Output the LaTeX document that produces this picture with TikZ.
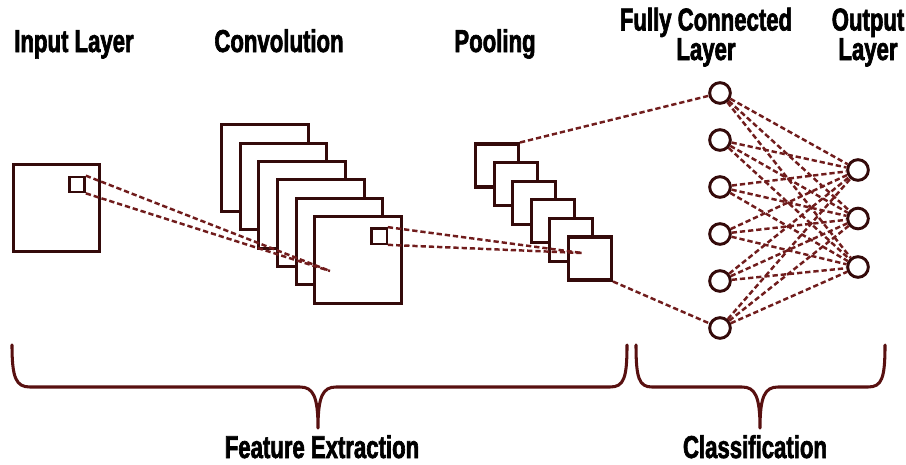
\documentclass[tikz,border=0pt]{standalone}
\usepackage{fontspec}
\newfontfamily\cnnfont{Liberation Sans}[UprightFont={* Bold}, FakeStretch=0.7, FakeBold=2]
\definecolor{boxred}{RGB}{52,10,10}
\definecolor{linkred}{RGB}{112,28,28}
\definecolor{bracered}{RGB}{88,16,16}
\tikzset{
    layer/.style={draw=boxred, line width=2.6pt, fill=white, minimum size=#1, inner sep=0pt},
    neuron/.style={draw=boxred, circle, line width=2.5pt, fill=white, minimum size=0.62cm, inner sep=0pt},
    link/.style={draw=linkred, line width=2.1pt, dash pattern=on 4.5pt off 2.5pt},
    bracket/.style={draw=bracered, line width=2.6pt, line cap=round, line join=round},
    title/.style={font=\cnnfont\fontsize{27}{24}\selectfont, align=center, anchor=base, inner sep=0pt}
}
\begin{document}
    \begin{tikzpicture}[x=0.03cm, y=-0.03cm]
        \useasboundingbox (0,0) rectangle (906,464);
        \node[layer=2.6cm] (input) at (56.5,208) {};
        \node[layer=0.46cm, line width=2pt] (insmall) at (77,184.5) {};
        \foreach \i in {1,...,6}
        \node[layer=2.6cm] (conv\i) at ({265+18.6*(\i-1)},{168+18.4*(\i-1)}) {};
        \node[layer=0.46cm, line width=2pt] (convsmall) at (379,236) {};
        \foreach \i in {1,...,6}
        \node[layer=1.29cm] (pool\i) at ({497+18.6*(\i-1)},{165.5+18.6*(\i-1)}) {};
        \foreach \i in {1,...,6}
        \node[neuron] (fc\i) at (720,{93+47*(\i-1)}) {};
        \foreach \j in {1,2,3}
        \node[neuron] (out\j) at (858,{170+48.5*(\j-1)}) {};
        \coordinate (convhit) at (330,271);
        \coordinate (poolhit) at (582,253);
        \draw[link] (insmall.north east) -- (convhit);
        \draw[link] (insmall.south east) -- (convhit);
        \draw[link] (convsmall.north east) -- (poolhit);
        \draw[link] (convsmall.south east) -- (poolhit);
        \draw[link] (pool1.north east) -- (fc1);
        \draw[link] (pool6.south east) -- (fc6);
        \foreach \i in {1,...,6}
        \foreach \j in {1,2,3}
        \draw[link] (fc\i) -- (out\j);
        \draw[bracket] (12,345) .. controls (12,378) and (16,387) .. (30,387) -- (300,387)
            .. controls (313,387) and (318,396) .. (318,428)
            .. controls (318,396) and (323,387) .. (336,387) -- (610,387)
            .. controls (624,387) and (627,378) .. (627,345);
        \draw[bracket] (636,345) .. controls (636,378) and (639,387) .. (652,387) -- (742,387)
            .. controls (755,387) and (760,396) .. (760,428)
            .. controls (760,396) and (765,387) .. (778,387) -- (868,387)
            .. controls (882,387) and (885,378) .. (885,345);
        \node[title] (inputlabel) at (74,52) {Input Layer};
        \node[title] (convlabel) at (279,52) {Convolution};
        \node[title] (poollabel) at (495,52) {Pooling};
        \node[title] (fclabel) at (706,60) {Fully Connected\\Layer};
        \node[title] (outlabel) at (868,60) {Output\\Layer};
        \node[title] (featlabel) at (322,458) {Feature Extraction};
        \node[title] (classlabel) at (755,458) {Classification};
    \end{tikzpicture}
\end{document}
